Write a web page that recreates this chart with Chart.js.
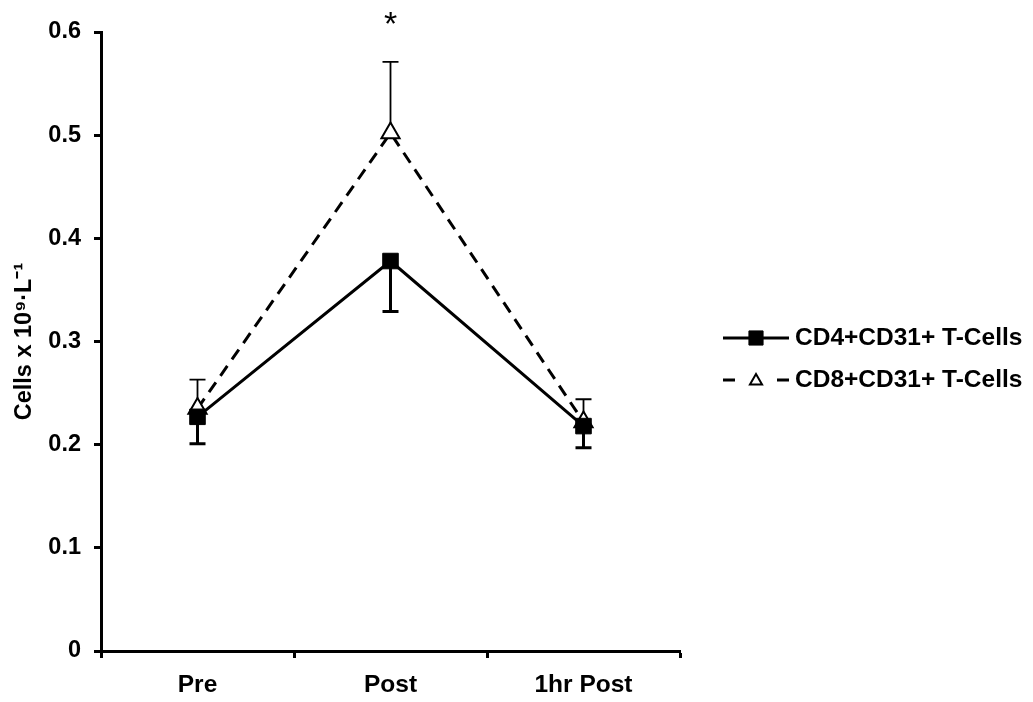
<!DOCTYPE html>
<html>
<head>
<meta charset="utf-8">
<script src="https://cdn.jsdelivr.net/npm/chart.js@4/dist/chart.umd.min.js"></script>
<style>
  html, body { margin: 0; padding: 0; background: #fff; }
  #wrap { width: 1033px; height: 702px; }
</style>
</head>
<body>
<div id="wrap"><canvas id="chart" width="1033" height="702"></canvas></div>
<script>
// Time points
const categories = ['Pre', 'Post', '1hr Post'];

// CD4+CD31+ T-cells: means and lower error (SEM)
const cd4Values = [0.227, 0.378, 0.218];
const cd4ErrorDown = [0.026, 0.049, 0.021];

// CD8+CD31+ T-cells: means and upper error (SEM)
const cd8Values = [0.235, 0.502, 0.222];
const cd8ErrorUp = [0.028, 0.069, 0.022];

const seriesLabels = ['CD4+CD31+ T-Cells', 'CD8+CD31+ T-Cells'];
const significance = ['', '*', ''];

const yMin = 0, yMax = 0.6, yStep = 0.1;
const yTitle = 'Cells x 10\u2079\u00B7L\u207B\u00B9';

const FONT = "'Liberation Sans', Arial, Helvetica, sans-serif";

// Error bars: CD4 drawn downward (heavy), CD8 drawn upward (thin)
const errorBarPlugin = {
  id: 'errorBars',
  beforeDatasetsDraw(chart) {
    const ctx = chart.ctx;
    const y = chart.scales.y;
    const specs = [
      { ds: 0, errs: cd4ErrorDown, dir: -1, width: 3, cap: 8 },
      { ds: 1, errs: cd8ErrorUp, dir: 1, width: 1.8, cap: 8 }
    ];
    ctx.save();
    ctx.strokeStyle = '#000';
    ctx.setLineDash([]);
    specs.forEach(s => {
      const meta = chart.getDatasetMeta(s.ds);
      const vals = chart.data.datasets[s.ds].data;
      meta.data.forEach((pt, i) => {
        const y0 = y.getPixelForValue(vals[i]);
        const y1 = y.getPixelForValue(vals[i] + s.dir * s.errs[i]);
        ctx.lineWidth = s.width;
        ctx.beginPath();
        ctx.moveTo(pt.x, y0);
        ctx.lineTo(pt.x, y1);
        ctx.moveTo(pt.x - s.cap, y1);
        ctx.lineTo(pt.x + s.cap, y1);
        ctx.stroke();
      });
    });
    ctx.restore();
  },
  afterDatasetsDraw(chart) {
    // significance markers above the CD8 error bars
    const ctx = chart.ctx;
    const y = chart.scales.y;
    const meta = chart.getDatasetMeta(1);
    ctx.save();
    ctx.fillStyle = '#000';
    ctx.font = '34px ' + FONT;
    ctx.textAlign = 'center';
    ctx.textBaseline = 'alphabetic';
    significance.forEach((mark, i) => {
      if (!mark) return;
      const top = y.getPixelForValue(cd8Values[i] + cd8ErrorUp[i]);
      ctx.fillText(mark, meta.data[i].x, top - 27);
    });
    ctx.restore();
  }
};

// Legend to the right of the plot: line sample with marker, then label
const sideLegendPlugin = {
  id: 'sideLegend',
  afterDraw(chart) {
    const ctx = chart.ctx;
    const x0 = 723, x1 = 789, xm = 756, xt = 795;
    const rows = [338, 380];
    ctx.save();
    ctx.strokeStyle = '#000';
    ctx.lineWidth = 3;
    // row 1: solid line, filled square
    ctx.setLineDash([]);
    ctx.beginPath();
    ctx.moveTo(x0, rows[0]);
    ctx.lineTo(x1, rows[0]);
    ctx.stroke();
    ctx.fillStyle = '#000';
    ctx.lineWidth = 1;
    Chart.helpers.drawPoint(ctx, { pointStyle: 'rect', radius: 10, borderWidth: 1, rotation: 0 }, xm, rows[0]);
    // row 2: dashed line, hollow triangle
    ctx.lineWidth = 3;
    ctx.setLineDash([12, 42]);
    ctx.beginPath();
    ctx.moveTo(x0, rows[1]);
    ctx.lineTo(x1 + 1, rows[1]);
    ctx.stroke();
    ctx.setLineDash([]);
    ctx.fillStyle = '#fff';
    ctx.lineWidth = 2;
    Chart.helpers.drawPoint(ctx, { pointStyle: 'triangle', radius: 7, borderWidth: 2, rotation: 0 }, xm, rows[1] + 1);
    // labels
    ctx.fillStyle = '#000';
    ctx.font = 'bold 24.5px ' + FONT;
    ctx.textAlign = 'left';
    ctx.textBaseline = 'middle';
    ctx.fillText(seriesLabels[0], xt, rows[0]);
    ctx.fillText(seriesLabels[1], xt, rows[1]);
    ctx.restore();
  }
};

new Chart(document.getElementById('chart'), {
  type: 'line',
  data: {
    labels: categories,
    datasets: [
      {
        label: seriesLabels[0],
        data: cd4Values,
        borderColor: '#000',
        borderWidth: 3,
        tension: 0,
        fill: false,
        pointStyle: 'rect',
        pointRadius: 11,
        pointHoverRadius: 11,
        pointBackgroundColor: '#000',
        pointBorderColor: '#000',
        pointBorderWidth: 1
      },
      {
        label: seriesLabels[1],
        data: cd8Values,
        borderColor: '#000',
        borderWidth: 3,
        borderDash: [12, 8],
        tension: 0,
        fill: false,
        pointStyle: 'triangle',
        pointRadius: 10.5,
        pointHoverRadius: 10.5,
        pointBackgroundColor: '#fff',
        pointBorderColor: '#000',
        pointBorderWidth: 2
      }
    ]
  },
  options: {
    responsive: false,
    devicePixelRatio: 1,
    animation: false,
    layout: { padding: { top: 32, right: 353, bottom: 0, left: 0 } },
    plugins: {
      legend: { display: false },
      tooltip: { enabled: false }
    },
    scales: {
      x: {
        type: 'category',
        offset: true,
        grid: {
          display: true,
          offset: true,
          drawOnChartArea: false,
          drawTicks: true,
          tickLength: 7,
          tickWidth: 3,
          tickColor: '#000'
        },
        border: { display: true, color: '#000', width: 3 },
        ticks: {
          color: '#000',
          padding: 13,
          font: { family: FONT, size: 24.5, weight: 'bold' }
        },
        afterFit(scale) { scale.height = 51; }
      },
      y: {
        min: yMin,
        max: yMax,
        ticks: {
          stepSize: yStep,
          color: '#000',
          padding: 13,
          font: { family: FONT, size: 23.5, weight: 'bold' }
        },
        grid: {
          drawOnChartArea: false,
          drawTicks: true,
          tickLength: 7,
          tickWidth: 3,
          tickColor: '#000'
        },
        border: { display: true, color: '#000', width: 3 },
        title: {
          display: true,
          text: yTitle,
          color: '#000',
          padding: { top: 10, bottom: 0 },
          font: { family: FONT, size: 23.5, weight: 'bold' }
        },
        afterFit(scale) { scale.width = 101; }
      }
    }
  },
  plugins: [errorBarPlugin, sideLegendPlugin]
});
</script>
</body>
</html>
